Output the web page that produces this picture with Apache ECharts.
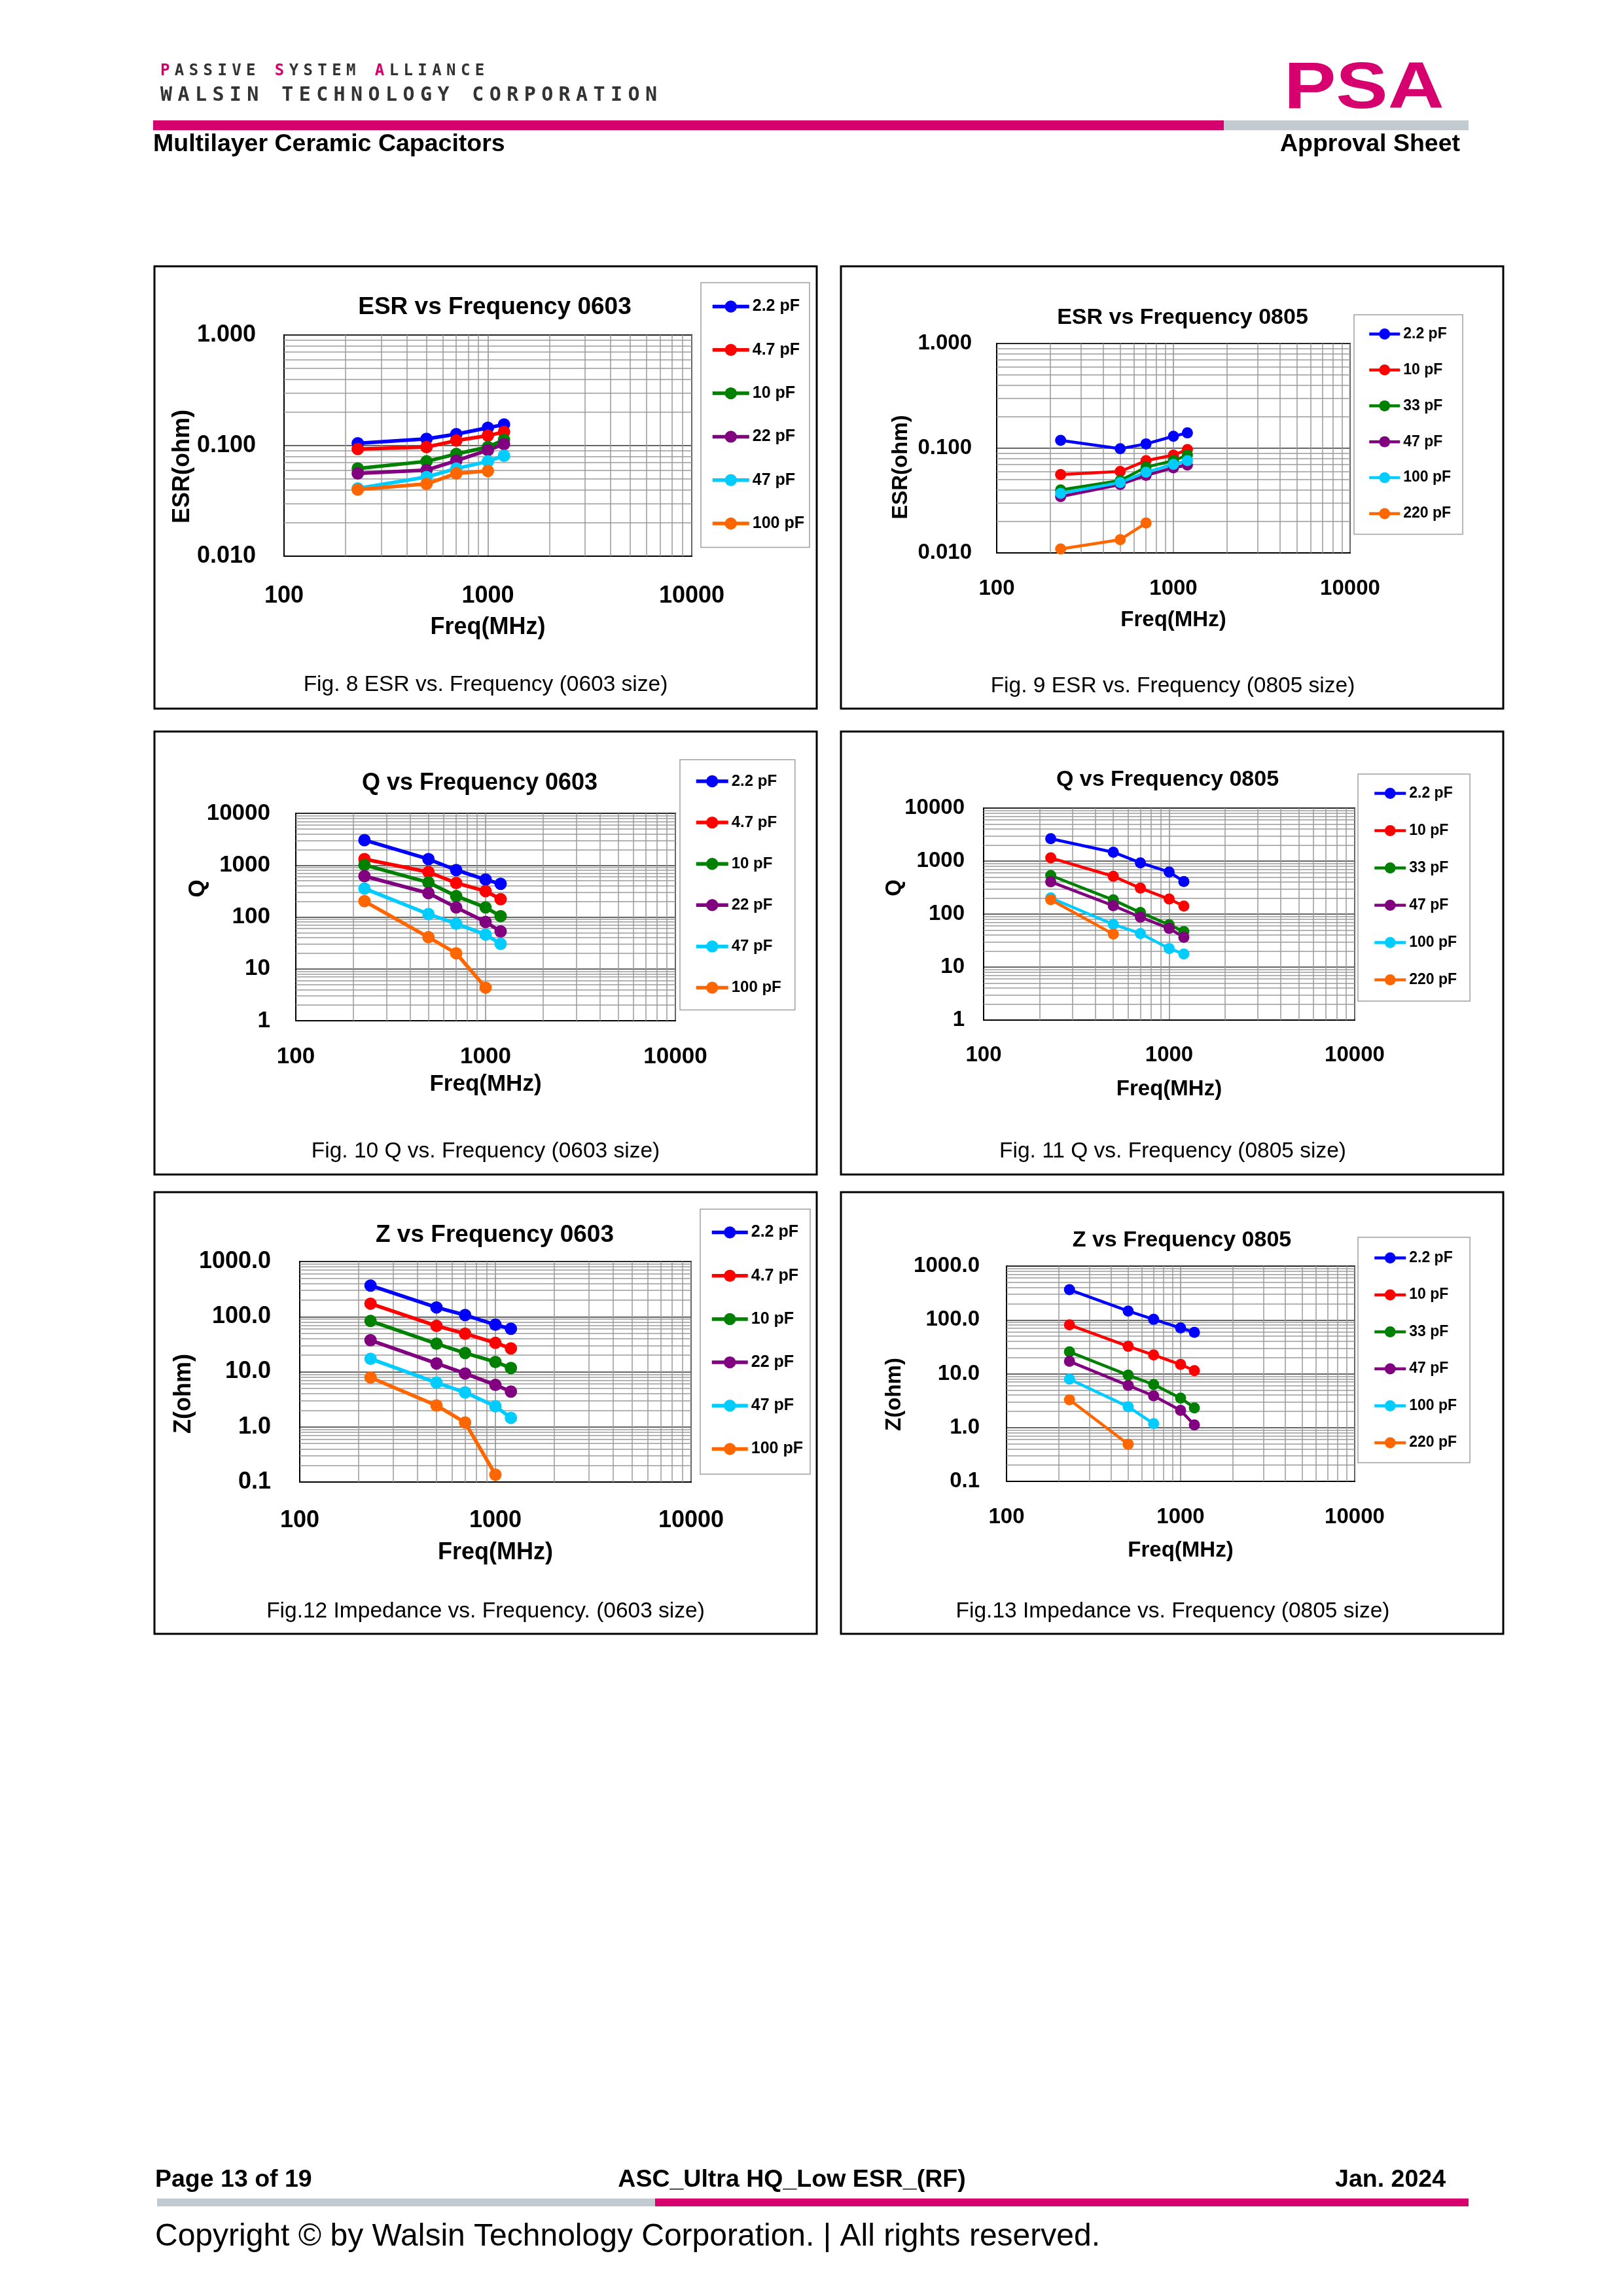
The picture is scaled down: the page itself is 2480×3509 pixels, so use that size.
<!DOCTYPE html>
<html><head><meta charset="utf-8">
<script src="https://cdn.jsdelivr.net/npm/echarts@6/dist/echarts.min.js"></script>
<style>
html,body{margin:0;padding:0;background:#fff;}
#page{position:relative;width:2480px;height:3509px;overflow:hidden;}
#chart{position:absolute;left:0;top:0;width:2480px;height:3509px;}
.logo{position:absolute;font-family:'DejaVu Sans Mono',monospace;font-weight:bold;color:#333;white-space:nowrap;line-height:1;z-index:5;}
.pk{color:#d6006e;}
</style></head><body>
<div id="page">
<div id="chart"></div>
<div class="logo" style="left:245px;top:95px;font-size:24px;letter-spacing:7.4px;"><span class="pk">P</span>ASSIVE <span class="pk">S</span>YSTEM <span class="pk">A</span>LLIANCE</div>
<div class="logo" style="left:245px;top:129px;font-size:30px;letter-spacing:8.4px;">WALSIN TECHNOLOGY CORPORATION</div>
</div>
<script>
// ---------- data ----------
const freqMHz = [230, 500, 700, 1000, 1200];
const freqTickLabels = ['100', '1000', '10000'];
const esrTickLabels = ['0.010', '0.100', '1.000'];
const qTickLabels = ['1', '10', '100', '1000', '10000'];
const zTickLabels = ['0.1', '1.0', '10.0', '100.0', '1000.0'];

const caps0603 = ['2.2 pF', '4.7 pF', '10 pF', '22 pF', '47 pF', '100 pF'];
const caps0805 = ['2.2 pF', '10 pF', '33 pF', '47 pF', '100 pF', '220 pF'];
const seriesColors = ['#0000FF', '#FF0000', '#008000', '#800080', '#00CCFF', '#FF6600'];

// ESR (ohm) 0603
const esr0603_2p2 = [0.105, 0.115, 0.127, 0.145, 0.155];
const esr0603_4p7 = [0.093, 0.097, 0.111, 0.123, 0.133];
const esr0603_10 = [0.062, 0.072, 0.084, 0.097, 0.113];
const esr0603_22 = [0.056, 0.060, 0.073, 0.091, 0.103];
const esr0603_47 = [0.041, 0.052, 0.062, 0.072, 0.081];
const esr0603_100 = [0.040, 0.045, 0.056, 0.059];
// ESR (ohm) 0805
const esr0805_2p2 = [0.119, 0.099, 0.110, 0.130, 0.140];
const esr0805_10 = [0.056, 0.060, 0.076, 0.086, 0.097];
const esr0805_33 = [0.040, 0.049, 0.066, 0.076, 0.086];
const esr0805_47 = [0.0345, 0.045, 0.055, 0.065, 0.069];
const esr0805_100 = [0.037, 0.047, 0.059, 0.070, 0.076];
const esr0805_220 = [0.0109, 0.0134, 0.0193];
// Q 0603
const q0603_2p2 = [3040, 1310, 805, 527, 436];
const q0603_4p7 = [1310, 736, 453, 316, 221];
const q0603_10 = [1010, 464, 254, 153, 104];
const q0603_22 = [615, 289, 153, 80.5, 52.7];
const q0603_47 = [355, 114, 74.5, 45.8, 30.4];
const q0603_100 = [202, 40.8, 20, 4.35];
// Q 0805
const q0805_2p2 = [2650, 1470, 927, 622, 412];
const q0805_10 = [1150, 516, 309, 192, 142];
const q0805_33 = [535, 185, 107, 63, 46.9];
const q0805_47 = [407, 144, 87.5, 53.7, 36.5];
const q0805_100 = [202, 64, 43, 22.4, 17.7];
const q0805_220 = [187, 41.9];
// Z (ohm) 0603
const z0603_2p2 = [367, 147, 107, 71.4, 60.3];
const z0603_4p7 = [172, 68, 49.2, 33.4, 26.6];
const z0603_10 = [83.5, 32.3, 21.9, 15.1, 11.7];
const z0603_22 = [37.3, 14.2, 9.3, 5.77, 4.37];
const z0603_47 = [17.2, 6.35, 4.22, 2.37, 1.46];
const z0603_100 = [7.87, 2.45, 1.2, 0.136];
// Z (ohm) 0805
const z0805_2p2 = [364, 146, 102.5, 70.9, 58.9];
const z0805_10 = [81, 32.3, 22.3, 14.9, 11.4];
const z0805_33 = [25.5, 9.44, 6.3, 3.53, 2.32];
const z0805_47 = [17, 6.07, 3.89, 2.08, 1.12];
const z0805_100 = [7.94, 2.44, 1.18];
const z0805_220 = [3.28, 0.49];

// ---------- layout ----------
const F = '"Liberation Sans", Arial, sans-serif';
const PINK = '#d6006e';
const GRAY = '#c2cbd1';

const panels = [
  {key:'esr0603', caps:caps0603, values:[esr0603_2p2,esr0603_4p7,esr0603_10,esr0603_22,esr0603_47,esr0603_100],
   yMin:0.01, yMax:1, yTicks:esrTickLabels, yName:'ESR(ohm)', title:'ESR vs Frequency 0603', caption:'Fig. 8 ESR vs. Frequency (0603 size)',
   box:[236,407,1012,676], grid:[434,512,623,338], fs:36, tfs:37, xMargin:43, xNameGap:91, yMargin:43, yNameXY:[279,713],
   titleXY:[756,470], capXY:[742,1047], lg:{left:1071,top:432,ih:23,iw:56,gap:41.3,pad:[24,8,24,15],fs:25}, lw:5.5, sym:19},
  {key:'esr0805', caps:caps0805, values:[esr0805_2p2,esr0805_10,esr0805_33,esr0805_47,esr0805_100,esr0805_220],
   yMin:0.01, yMax:1, yTicks:esrTickLabels, yName:'ESR(ohm)', title:'ESR vs Frequency 0805', caption:'Fig. 9 ESR vs. Frequency (0805 size)',
   box:[1285,407,1012,676], grid:[1523,525,540,320], fs:33, tfs:34, xMargin:38, xNameGap:86, yMargin:38, yNameXY:[1377,714],
   titleXY:[1807,486], capXY:[1792,1049], lg:{left:2069,top:481,ih:21,iw:47,gap:31.9,pad:[18,18,20,21],fs:23}, lw:4.5, sym:17},
  {key:'q0603', caps:caps0603, values:[q0603_2p2,q0603_4p7,q0603_10,q0603_22,q0603_47,q0603_100],
   yMin:1, yMax:10000, yTicks:qTickLabels, yName:'Q', title:'Q vs Frequency 0603', caption:'Fig. 10 Q vs. Frequency (0603 size)',
   box:[236,1118,1012,677], grid:[452,1243,580,317], fs:35, tfs:36, xMargin:38, xNameGap:80, yMargin:39, yNameXY:[302,1358],
   titleXY:[733,1197], capXY:[742,1760], lg:{left:1039,top:1161,ih:23,iw:49,gap:39.1,pad:[21,21,22,22],fs:24}, lw:5.5, sym:19},
  {key:'q0805', caps:caps0805, values:[q0805_2p2,q0805_10,q0805_33,q0805_47,q0805_100,q0805_220],
   yMin:1, yMax:10000, yTicks:qTickLabels, yName:'Q', title:'Q vs Frequency 0805', caption:'Fig. 11 Q vs. Frequency (0805 size)',
   box:[1285,1118,1012,677], grid:[1503,1235,567,324], fs:33, tfs:34, xMargin:37, xNameGap:89, yMargin:29, yNameXY:[1367,1357],
   titleXY:[1784,1192], capXY:[1792,1760], lg:{left:2075,top:1183,ih:21,iw:48,gap:34,pad:[18,20,21,23],fs:23}, lw:4.5, sym:17},
  {key:'z0603', caps:caps0603, values:[z0603_2p2,z0603_4p7,z0603_10,z0603_22,z0603_47,z0603_100],
   yMin:0.1, yMax:1000, yTicks:zTickLabels, yName:'Z(ohm)', title:'Z vs Frequency 0603', caption:'Fig.12 Impedance vs. Frequency. (0603 size)',
   box:[236,1822,1012,675], grid:[458,1928,598,337], fs:36, tfs:37, xMargin:41, xNameGap:90, yMargin:44, yNameXY:[281,2130],
   titleXY:[756,1888], capXY:[742,2463], lg:{left:1070,top:1848,ih:23,iw:55,gap:41.2,pad:[23,11,26,15],fs:25}, lw:5.5, sym:19},
  {key:'z0805', caps:caps0805, values:[z0805_2p2,z0805_10,z0805_33,z0805_47,z0805_100,z0805_220],
   yMin:0.1, yMax:1000, yTicks:zTickLabels, yName:'Z(ohm)', title:'Z vs Frequency 0805', caption:'Fig.13 Impedance vs. Frequency (0805 size)',
   box:[1285,1822,1012,675], grid:[1538,1935,532,329], fs:33, tfs:34, xMargin:38, xNameGap:89, yMargin:41, yNameXY:[1367,2131],
   titleXY:[1806,1896], capXY:[1792,2463], lg:{left:2075,top:1891,ih:21,iw:48,gap:33.5,pad:[20,20,19,23],fs:23}, lw:4.5, sym:17}
];

function minorLines(lo, hi) {
  const out = [];
  for (let d = lo; d < hi * 0.999; d *= 10) {
    for (let k = 2; k <= 9; k++) out.push(+(k * d).toPrecision(6));
  }
  return out;
}
function tickFormatter(labels, min) {
  return function (v) {
    const idx = Math.round(Math.log10(v / min));
    return labels[idx] !== undefined ? labels[idx] : '';
  };
}

const grid = [], xAxis = [], yAxis = [], series = [], legend = [], graphic = [];

panels.forEach((p, i) => {
  grid.push({left:p.grid[0], top:p.grid[1], width:p.grid[2], height:p.grid[3], show:true,
    borderColor:'#000', borderWidth:2, backgroundColor:'#fff', containLabel:false, outerBoundsMode:'none'});
  xAxis.push({type:'log', logBase:10, gridIndex:i, min:100, max:10000,
    name:'Freq(MHz)', nameLocation:'middle', nameGap:p.xNameGap, nameMoveOverlap:false,
    nameTextStyle:{fontFamily:F, fontWeight:'bold', fontSize:p.fs, color:'#000'},
    axisLine:{show:true, onZero:false, lineStyle:{color:'#000', width:2}},
    axisTick:{show:false},
    axisLabel:{margin:p.xMargin, fontFamily:F, fontWeight:'bold', fontSize:p.fs, color:'#000',
      showMinLabel:true, showMaxLabel:true, hideOverlap:false, formatter:tickFormatter(freqTickLabels, 100)},
    splitLine:{show:true, lineStyle:{color:'#8a8a8a', width:1.5}}});
  yAxis.push({type:'log', logBase:10, gridIndex:i, min:p.yMin, max:p.yMax,
    axisLine:{show:true, onZero:false, lineStyle:{color:'#000', width:2}},
    axisTick:{show:false},
    axisLabel:{margin:p.yMargin, fontFamily:F, fontWeight:'bold', fontSize:p.fs, color:'#000',
      showMinLabel:true, showMaxLabel:true, hideOverlap:false, formatter:tickFormatter(p.yTicks, p.yMin)},
    splitLine:{show:true, lineStyle:{color:'#333', width:1.5}}});

  const mk = [];
  minorLines(100, 10000).forEach(v => mk.push({xAxis:v}));
  minorLines(p.yMin, p.yMax).forEach(v => mk.push({yAxis:v}));
  series.push({type:'line', name:'grid-' + p.key, xAxisIndex:i, yAxisIndex:i, data:[], silent:true, z:1,
    markLine:{silent:true, z:1, animation:false, symbol:['none','none'], label:{show:false},
      emphasis:{disabled:true}, lineStyle:{color:'#9a9a9a', width:1.5, type:'solid'}, data:mk}});

  p.values.forEach((vals, s) => {
    series.push({type:'line', name:p.key + '|' + p.caps[s], xAxisIndex:i, yAxisIndex:i,
      data: vals.map((v, k) => [freqMHz[k], v]),
      symbol:'circle', symbolSize:p.sym, showSymbol:true, z:3,
      lineStyle:{color:seriesColors[s], width:p.lw}, itemStyle:{color:seriesColors[s]},
      emphasis:{disabled:true}});
  });

  legend.push({show:true, orient:'vertical', left:p.lg.left, top:p.lg.top,
    itemWidth:p.lg.iw, itemHeight:p.lg.ih, itemGap:p.lg.gap, padding:p.lg.pad,
    borderColor:'#a0a0a0', borderWidth:1.5, backgroundColor:'#fff', selectedMode:false,
    lineStyle:{width:p.lw},
    data:p.caps.map(c => p.key + '|' + c), formatter:n => n.split('|')[1],
    textStyle:{fontFamily:F, fontWeight:'bold', fontSize:p.lg.fs, color:'#000'}});

  graphic.push({type:'rect', shape:{x:p.box[0], y:p.box[1], width:p.box[2], height:p.box[3]},
    style:{fill:null, stroke:'#000', lineWidth:3}, z:0, silent:true});
  graphic.push({type:'text', x:p.titleXY[0], y:p.titleXY[1], silent:true,
    style:{text:p.title, fontFamily:F, fontWeight:'bold', fontSize:p.tfs, fill:'#000',
      align:'center', verticalAlign:'middle', textAlign:'center', textVerticalAlign:'middle'}});
  graphic.push({type:'text', x:p.capXY[0], y:p.capXY[1], silent:true,
    style:{text:p.caption, fontFamily:F, fontSize:33.5, fill:'#000',
      align:'center', verticalAlign:'middle', textAlign:'center', textVerticalAlign:'middle'}});
  graphic.push({type:'text', x:p.yNameXY[0], y:p.yNameXY[1], rotation:Math.PI / 2, silent:true,
    style:{text:p.yName, fontFamily:F, fontWeight:'bold', fontSize:p.fs, fill:'#000',
      align:'center', verticalAlign:'middle', textAlign:'center', textVerticalAlign:'middle'}});
});

function txt(text, x, y, size, weight, align, fill) {
  return {type:'text', x:x, y:y, silent:true,
    style:{text:text, fontFamily:F, fontWeight:weight, fontSize:size, fill:fill || '#000',
      align:align, verticalAlign:'middle', textAlign:align, textVerticalAlign:'middle'}};
}
// header
graphic.push({type:'rect', shape:{x:234, y:184, width:1636, height:15}, style:{fill:PINK}, silent:true});
graphic.push({type:'rect', shape:{x:1870, y:184, width:374, height:15}, style:{fill:GRAY}, silent:true});
graphic.push(txt('Multilayer Ceramic Capacitors', 234, 221, 37.5, 'bold', 'left'));
graphic.push(txt('Approval Sheet', 2231, 221, 37.5, 'bold', 'right'));
graphic.push({type:'text', x:1962, y:137, scaleX:1.19, silent:true,
  style:{text:'PSA', fontFamily:F, fontWeight:'bold', fontSize:100, fill:PINK,
    align:'left', verticalAlign:'middle', textAlign:'left', textVerticalAlign:'middle'}});
// footer
graphic.push(txt('Page 13 of 19', 237, 3332, 37.5, 'bold', 'left'));
graphic.push(txt('ASC_Ultra HQ_Low ESR_(RF)', 1210, 3332, 37.5, 'bold', 'center'));
graphic.push(txt('Jan. 2024', 2209, 3332, 37.5, 'bold', 'right'));
graphic.push({type:'rect', shape:{x:240, y:3360, width:761, height:12}, style:{fill:GRAY}, silent:true});
graphic.push({type:'rect', shape:{x:1001, y:3360, width:1243, height:12}, style:{fill:PINK}, silent:true});
graphic.push(txt('Copyright \u00A9 by Walsin Technology Corporation. | All rights reserved.', 237, 3419, 48, 'normal', 'left'));

const chart = echarts.init(document.getElementById('chart'), null, {renderer:'canvas', width:2480, height:3509});
chart.setOption({
  backgroundColor:'#fff',
  animation:false,
  grid:grid, xAxis:xAxis, yAxis:yAxis, series:series, legend:legend, graphic:graphic
});
</script>
</body></html>
